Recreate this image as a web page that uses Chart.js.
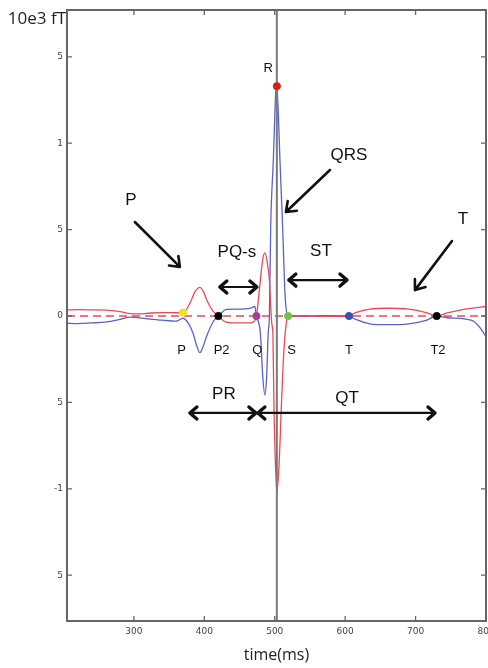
<!DOCTYPE html>
<html>
<head>
<meta charset="utf-8">
<script src="https://cdn.jsdelivr.net/npm/chart.js@4"></script>
<style>
  html, body { margin:0; padding:0; background:#fff; overflow:hidden; }
  #wrap { width:508px; height:668px; }
</style>
</head>
<body>
<div id="wrap"><canvas id="ecgChart" width="508" height="668"></canvas></div>
<script>
// axis ticks
const xTicks = [300, 400, 500, 600, 700, 800];
const yTicks = [-1.5, -1, -0.5, 0, 0.5, 1, 1.5];
const yTickText = ['5', '-1', '5', '0', '5', '1', '5'];

// red trace (time ms, 10e3 fT)
const redTime = [205,220,240,260,280,295,305,320,340,360,369.6,379.5,386.6,393.7,399,403.4,412,420,431,450,465,471,474,479.6,483,486,489,492.4,494.3,496,497.4,498.8,501.1,503,506,509.8,513,517,519,540,570,605,615,635,660,690,715,730,745,770,800];
const redField = [0.035,0.037,0.036,0.034,0.025,0.014,0.012,0.016,0.02,0.019,0.02,0.073,0.14,0.166,0.14,0.093,0.03,0.0,-0.035,-0.04,-0.04,-0.03,0.0,0.208,0.33,0.365,0.32,0.208,0.054,-0.05,-0.1,-0.5,-0.87,-1.02,-0.87,-0.485,-0.2,-0.023,0.0,0.0,-0.002,0.0,0.02,0.04,0.045,0.04,0.02,0.0,0.018,0.04,0.055];

// blue trace
const blueTime = [205,220,240,260,280,295,310,340,360,369.6,377,384,389,393.7,398,403,412.6,420,431.6,450,464.8,471.6,474,479.6,483,486,488.5,490.7,492.4,494.3,498,501.4,503,507.4,511.2,514.5,517,519,540,570,605,615,635,660,690,715,730,745,780,792,800];
const blueField = [-0.042,-0.044,-0.04,-0.035,-0.02,-0.006,-0.012,-0.024,-0.03,-0.013,-0.04,-0.1,-0.17,-0.212,-0.18,-0.12,-0.033,0.0,0.039,0.04,0.044,0.055,0.0,-0.1,-0.35,-0.457,-0.35,-0.1,0.0,0.517,0.903,1.29,1.33,0.903,0.517,0.133,0.017,0.0,0.0,0.002,0.0,-0.02,-0.045,-0.05,-0.045,-0.025,0.0,-0.01,-0.025,-0.07,-0.12];

// fiducial points
const markerName = ['P', 'P2', 'Q', 'R', 'S', 'T', 'T2'];
const markerTime = [369.6, 420, 474, 503, 519, 605.4, 730];
const markerField = [0.02, 0, 0, 1.33, 0, 0, 0];
const markerColor = ['#f2e21e', '#000000', '#a23ea0', '#d81e1e', '#6cc644', '#3a4fb0', '#000000'];
const markerLabelTime = [367.7, 424.6, 475.1, 490.6, 524, 605.4, 731.8];
const markerLabelField = [-0.197, -0.197, -0.197, 1.433, -0.197, -0.197, -0.197];

// R reference line
const rLineTime = 503;

// annotations
const noteText = ['P', 'PQ-s', 'QRS', 'ST', 'T', 'PR', 'QT'];
const noteTime = [295.7, 446.3, 605.4, 565.6, 767.3, 427.8, 602.6];
const noteField = [0.671, 0.370, 0.932, 0.376, 0.561, -0.451, -0.475];

const pointerFrom = [[301.4, 0.544], [578.4, 0.845], [751.7, 0.434]];
const pointerTo = [[365.3, 0.284], [515.9, 0.602], [699.1, 0.150]];

const spanStart = [422, 520, 379.5, 476];
const spanEnd = [474.7, 602.6, 473.3, 727.6];
const spanLevel = [0.168, 0.208, -0.561, -0.561];

const X_MIN = 205, X_MAX = 800, Y_MIN = -1.765, Y_MAX = 1.771;

function pts(xs, ys) { return xs.map((x, i) => ({x: x, y: ys[i]})); }

const decorations = {
  id: 'decorations',
  afterDatasetsDraw(chart) {
    const ctx = chart.ctx, xs = chart.scales.x, ys = chart.scales.y;
    const px = v => xs.getPixelForValue(v), py = v => ys.getPixelForValue(v);
    ctx.save();
    ctx.fillStyle = '#111';
    ctx.textAlign = 'center';
    ctx.textBaseline = 'middle';

    // point names
    ctx.font = '13px "Liberation Sans", Arial, sans-serif';
    markerName.forEach((n, i) => ctx.fillText(n, px(markerLabelTime[i]), py(markerLabelField[i])));

    // big labels
    ctx.font = '17px "Liberation Sans", Arial, sans-serif';
    noteText.forEach((n, i) => ctx.fillText(n, px(noteTime[i]), py(noteField[i])));

    ctx.strokeStyle = '#111';
    ctx.lineCap = 'round';
    ctx.lineJoin = 'round';

    // pointer arrows
    pointerFrom.forEach((f, i) => {
      const x1 = px(f[0]), y1 = py(f[1]), x2 = px(pointerTo[i][0]), y2 = py(pointerTo[i][1]);
      const a = Math.atan2(y2 - y1, x2 - x1), h = 11;
      ctx.lineWidth = 2.6;
      ctx.beginPath();
      ctx.moveTo(x1, y1); ctx.lineTo(x2, y2);
      ctx.moveTo(x2 - h * Math.cos(a - 0.65), y2 - h * Math.sin(a - 0.65));
      ctx.lineTo(x2, y2);
      ctx.lineTo(x2 - h * Math.cos(a + 0.65), y2 - h * Math.sin(a + 0.65));
      ctx.stroke();
    });

    // double arrows
    spanStart.forEach((s, i) => {
      const x1 = px(s), x2 = px(spanEnd[i]), y = py(spanLevel[i]);
      ctx.lineWidth = 2.2;
      ctx.beginPath();
      ctx.moveTo(x1 + 2, y); ctx.lineTo(x2 - 2, y);
      ctx.stroke();
      ctx.lineWidth = 3.4;
      ctx.beginPath();
      ctx.moveTo(x1 + 7, y - 6); ctx.lineTo(x1, y); ctx.lineTo(x1 + 7, y + 6);
      ctx.moveTo(x2 - 7, y - 6); ctx.lineTo(x2, y); ctx.lineTo(x2 - 7, y + 6);
      ctx.stroke();
    });
    ctx.restore();
  },
  afterDraw(chart) {
    const ctx = chart.ctx, a = chart.chartArea, xs = chart.scales.x, ys = chart.scales.y;
    ctx.save();
    ctx.strokeStyle = '#666';
    ctx.lineWidth = 2;
    ctx.strokeRect(a.left, a.top, a.right - a.left, a.bottom - a.top);
    ctx.lineWidth = 1.3;
    ctx.beginPath();
    xTicks.forEach(v => {
      const x = xs.getPixelForValue(v);
      ctx.moveTo(x, a.bottom); ctx.lineTo(x, a.bottom - 5);
      ctx.moveTo(x, a.top); ctx.lineTo(x, a.top + 5);
    });
    yTicks.forEach(v => {
      const y = ys.getPixelForValue(v);
      ctx.moveTo(a.left, y); ctx.lineTo(a.left + 5, y);
      ctx.moveTo(a.right, y); ctx.lineTo(a.right - 5, y);
    });
    ctx.stroke();
    // y unit
    ctx.fillStyle = '#222';
    ctx.font = '17px "Open Sans", sans-serif';
    ctx.textAlign = 'right';
    ctx.textBaseline = 'middle';
    ctx.fillText('10e3 fT', a.left - 1, 19);
    ctx.restore();
  }
};

const ctx1 = document.getElementById('ecgChart').getContext('2d');
new Chart(ctx1, {
  type: 'scatter',
  data: {
    datasets: [{
      label: 'markers',
      data: pts(markerTime, markerField),
      pointBackgroundColor: markerColor,
      pointBorderColor: markerColor,
      pointRadius: 3.6,
      showLine: false
    }, {
      label: 'R line',
      data: [{x: rLineTime, y: Y_MIN}, {x: rLineTime, y: Y_MAX}],
      showLine: true,
      borderColor: '#7a7a7a',
      borderWidth: 2,
      pointRadius: 0
    }, {
      label: 'red',
      data: pts(redTime, redField),
      showLine: true,
      borderColor: 'rgb(238,72,82)',
      borderWidth: 1.3,
      pointRadius: 0,
      cubicInterpolationMode: 'monotone'
    }, {
      label: 'blue',
      data: pts(blueTime, blueField),
      showLine: true,
      borderColor: 'rgb(88,100,198)',
      borderWidth: 1.3,
      pointRadius: 0,
      cubicInterpolationMode: 'monotone'
    }, {
      label: 'zero',
      data: [{x: X_MIN, y: 0}, {x: X_MAX, y: 0}],
      showLine: true,
      borderColor: 'rgb(238,72,82)',
      borderWidth: 1.3,
      borderDash: [8, 5],
      pointRadius: 0
    }]
  },
  options: {
    responsive: false,
    animation: false,
    devicePixelRatio: 1,
    layout: { padding: { left: 0, top: 10, right: 22, bottom: 0 } },
    plugins: { legend: { display: false }, tooltip: { enabled: false } },
    scales: {
      x: {
        type: 'linear',
        min: X_MIN,
        max: X_MAX,
        grid: { display: false, drawTicks: false },
        border: { display: false },
        afterBuildTicks: s => { s.ticks = xTicks.map(v => ({value: v})); },
        afterFit: s => { s.height = 47; },
        ticks: {
          padding: 5,
          color: '#444',
          font: { family: '"DejaVu Sans", sans-serif', size: 9 },
          maxRotation: 0
        },
        title: {
          display: true,
          text: 'time(ms)',
          color: '#222',
          font: { family: '"Open Sans", sans-serif', size: 16 },
          padding: { top: 4, bottom: 3 }
        }
      },
      y: {
        type: 'linear',
        min: Y_MIN,
        max: Y_MAX,
        grid: { display: false, drawTicks: false },
        border: { display: false },
        afterBuildTicks: s => { s.ticks = yTicks.map(v => ({value: v})); },
        afterFit: s => { s.width = 67; },
        ticks: {
          padding: 4,
          color: '#444',
          font: { family: '"DejaVu Sans", sans-serif', size: 9 },
          callback: v => yTickText[yTicks.indexOf(v)]
        }
      }
    }
  },
  plugins: [decorations]
});
</script>
</body>
</html>
